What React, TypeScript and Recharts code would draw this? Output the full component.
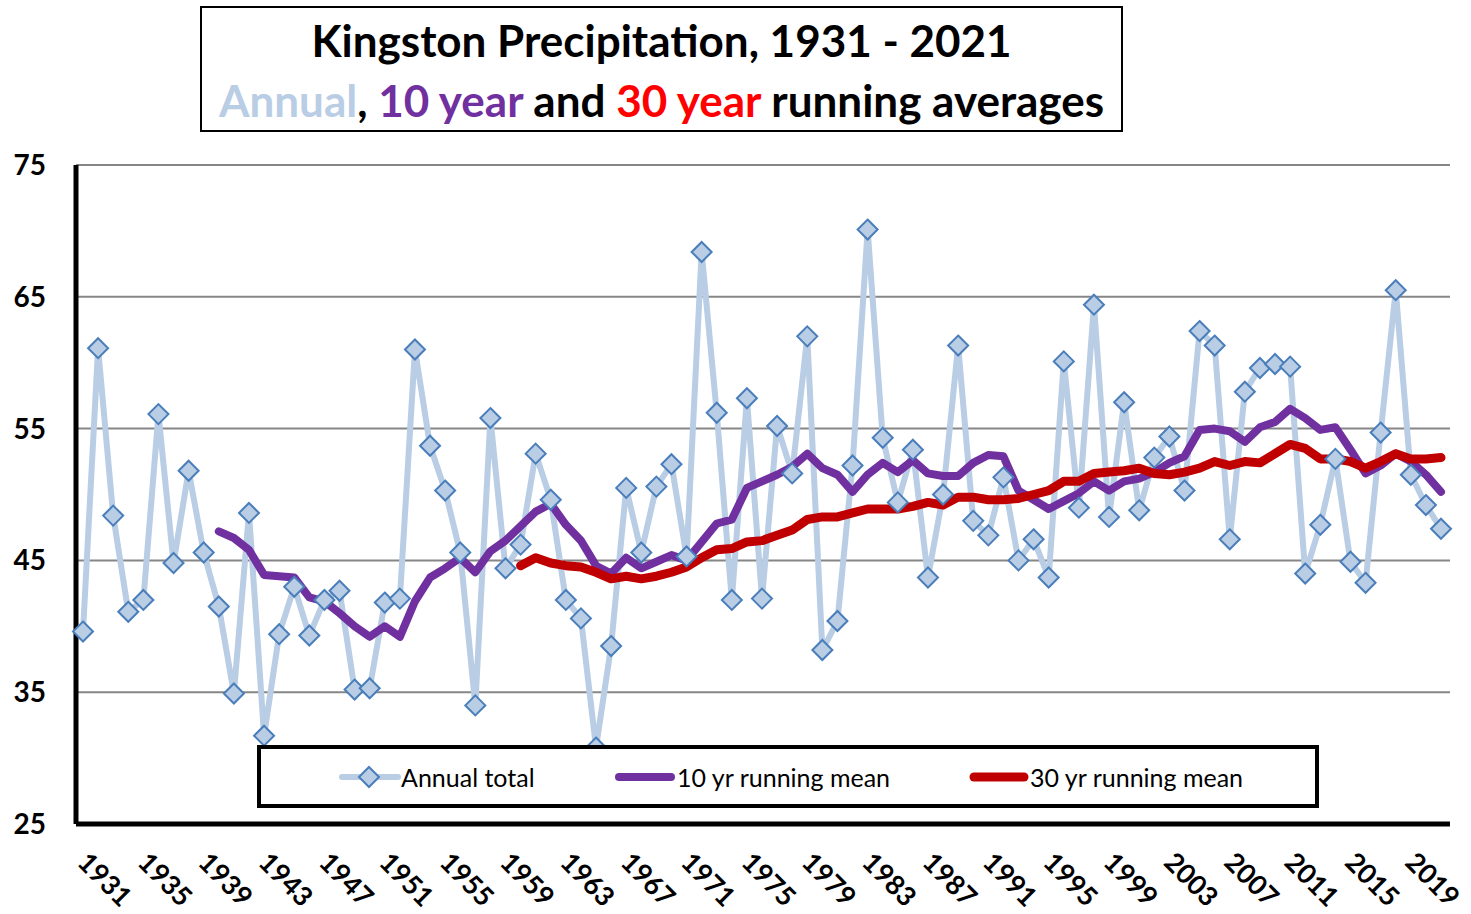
import React from "react";
import { LineChart, Line, XAxis, YAxis, CartesianGrid } from "recharts";

// years 1931 - 2021
const YEARS = [
  1931, 1932, 1933, 1934, 1935, 1936, 1937, 1938, 1939, 1940,
  1941, 1942, 1943, 1944, 1945, 1946, 1947, 1948, 1949, 1950,
  1951, 1952, 1953, 1954, 1955, 1956, 1957, 1958, 1959, 1960,
  1961, 1962, 1963, 1964, 1965, 1966, 1967, 1968, 1969, 1970,
  1971, 1972, 1973, 1974, 1975, 1976, 1977, 1978, 1979, 1980,
  1981, 1982, 1983, 1984, 1985, 1986, 1987, 1988, 1989, 1990,
  1991, 1992, 1993, 1994, 1995, 1996, 1997, 1998, 1999, 2000,
  2001, 2002, 2003, 2004, 2005, 2006, 2007, 2008, 2009, 2010,
  2011, 2012, 2013, 2014, 2015, 2016, 2017, 2018, 2019, 2020,
  2021,
];

const ANNUAL = [
  39.6, 61.1, 48.4, 41.1, 42.0, 56.1, 44.8, 51.8, 45.6, 41.5,
  34.9, 48.6, 31.7, 39.4, 43.0, 39.3, 42.0, 42.7, 35.2, 35.3,
  41.8, 42.1, 61.0, 53.7, 50.3, 45.6, 34.0, 55.8, 44.4, 46.2,
  53.1, 49.6, 42.0, 40.6, 30.8, 38.5, 50.5, 45.6, 50.6, 52.3,
  45.3, 68.4, 56.2, 42.0, 57.3, 42.1, 55.2, 51.6, 62.0, 38.2,
  40.4, 52.2, 70.1, 54.3, 49.4, 53.4, 43.7, 50.0, 61.3, 48.0,
  46.9, 51.3, 45.0, 46.6, 43.7, 60.1, 49.0, 64.4, 48.3, 57.0,
  48.8, 52.8, 54.4, 50.3, 62.4, 61.3, 46.6, 57.8, 59.6, 59.9,
  59.7, 44.0, 47.7, 52.7, 44.9, 43.3, 54.7, 65.5, 51.5, 49.2,
  47.4,
];

const MEAN_10 = [
  null, null, null, null, null, null, null, null, null, 47.2,
  46.7, 45.8, 43.9, 43.8, 43.7, 42.2, 41.9, 41.0, 40.0, 39.2,
  40.0, 39.2, 41.9, 43.7, 44.4, 45.2, 44.1, 45.7, 46.5, 47.6,
  48.7, 49.3, 47.7, 46.5, 44.6, 44.0, 45.2, 44.4, 44.9, 45.4,
  45.0, 46.4, 47.8, 48.1, 50.5, 51.0, 51.5, 52.1, 53.1, 52.0,
  51.5, 50.2, 51.5, 52.4, 51.7, 52.6, 51.6, 51.4, 51.4, 52.4,
  53.0, 52.9, 50.3, 49.6, 48.9, 49.5, 50.1, 51.0, 50.3, 51.0,
  51.2, 51.7, 52.4, 52.9, 54.9, 55.0, 54.8, 54.0, 55.1, 55.5,
  56.5, 55.8, 54.9, 55.1, 53.4, 51.6, 52.2, 53.1, 52.5, 51.5,
  50.2,
];

const MEAN_30 = [
  null, null, null, null, null, null, null, null, null, null,
  null, null, null, null, null, null, null, null, null, null,
  null, null, null, null, null, null, null, null, null, 44.6,
  45.2, 44.8, 44.6, 44.5, 44.1, 43.6, 43.8, 43.6, 43.8, 44.1,
  44.5, 45.2, 45.8, 45.9, 46.4, 46.5, 46.9, 47.3, 48.1, 48.3,
  48.3, 48.6, 48.9, 48.9, 48.9, 49.1, 49.4, 49.2, 49.8, 49.8,
  49.6, 49.6, 49.7, 50.0, 50.3, 51.0, 51.0, 51.6, 51.7, 51.8,
  52.0, 51.6, 51.5, 51.7, 52.0, 52.5, 52.2, 52.5, 52.4, 53.1,
  53.8, 53.5, 52.7, 52.7, 52.5, 52.0, 52.5, 53.1, 52.7, 52.7,
  52.8,
];

const Y_TICKS = [25, 35, 45, 55, 65, 75];

const data = YEARS.map((year, i) => ({
  year,
  annual: ANNUAL[i],
  mean10: MEAN_10[i],
  mean30: MEAN_30[i],
}));

const FONT = "Lato, 'Open Sans', sans-serif";
const ANNUAL_COLOR = "#b9cde5";
const MARKER_STROKE = "#4a7ebb";
const PURPLE = "#7030a0";
const RED = "#c00000";

const Diamond = (props: any) => {
  const { cx, cy, index } = props;
  if (cx == null || cy == null) return <g key={`d-${index}`} />;
  const r = 10;
  return (
    <polygon
      key={`d-${index}`}
      points={`${cx},${cy - r} ${cx + r},${cy} ${cx},${cy + r} ${cx - r},${cy}`}
      fill={ANNUAL_COLOR}
      stroke={MARKER_STROKE}
      strokeWidth={2}
    />
  );
};

const XTick = (props: any) => {
  const { x, payload } = props;
  const ax = x - 7;
  const ay = 864;
  return (
    <text
      x={ax}
      y={ay}
      transform={`rotate(45, ${ax}, ${ay})`}
      textAnchor="start"
      fontFamily={FONT}
      fontWeight={700}
      fontSize={27}
      fill="#000"
    >
      {payload.value}
    </text>
  );
};

const YTick = (props: any) => {
  const { y, payload } = props;
  return (
    <text
      x={46}
      y={y + 10}
      textAnchor="end"
      fontFamily={FONT}
      fontWeight={700}
      fontSize={28}
      fill="#000"
    >
      {payload.value}
    </text>
  );
};

const legendText: React.CSSProperties = {
  position: "absolute",
  top: 777 - 17,
  fontFamily: FONT,
  fontSize: 25,
  lineHeight: "34px",
  color: "#000",
  whiteSpace: "nowrap",
};

export default function App() {
  return (
    <div style={{ position: "absolute", left: 0, top: 0, width: 1471, height: 914, background: "#fff" }}>
      <LineChart
        width={1471}
        height={914}
        data={data}
        margin={{ top: 165, right: 21, left: 0, bottom: 6 }}
      >
        <CartesianGrid horizontal vertical={false} stroke="#868686" strokeWidth={2} />
        <XAxis
          dataKey="year"
          interval={3}
          height={84}
          padding={{ left: 7, right: 9 }}
          tickLine={false}
          axisLine={{ stroke: "#000", strokeWidth: 5 }}
          tick={<XTick />}
        />
        <YAxis
          domain={[25, 75]}
          ticks={Y_TICKS}
          width={76}
          tickLine={false}
          axisLine={{ stroke: "#000", strokeWidth: 5 }}
          tick={<YTick />}
        />
        <Line
          dataKey="annual"
          stroke={ANNUAL_COLOR}
          strokeWidth={6}
          dot={Diamond}
          activeDot={false}
          isAnimationActive={false}
        />
        <Line
          dataKey="mean10"
          stroke={PURPLE}
          strokeWidth={8}
          strokeLinecap="round"
          strokeLinejoin="round"
          dot={false}
          activeDot={false}
          isAnimationActive={false}
        />
        <Line
          dataKey="mean30"
          stroke={RED}
          strokeWidth={9}
          strokeLinecap="round"
          strokeLinejoin="round"
          dot={false}
          activeDot={false}
          isAnimationActive={false}
        />
      </LineChart>

      {/* title box */}
      <div
        style={{
          position: "absolute",
          left: 200,
          top: 6,
          width: 923,
          height: 126,
          boxSizing: "border-box",
          border: "2px solid #000",
          background: "#fff",
          paddingTop: 2,
          textAlign: "center",
          fontFamily: FONT,
          fontWeight: 700,
          fontSize: 44,
          lineHeight: "60px",
          color: "#000",
          whiteSpace: "nowrap",
        }}
      >
        <div>Kingston Precipitation, 1931 - 2021</div>
        <div>
          <span style={{ color: ANNUAL_COLOR }}>Annual</span>,{" "}
          <span style={{ color: PURPLE }}>10 year</span> and{" "}
          <span style={{ color: "#ff0000" }}>30 year</span> running averages
        </div>
      </div>

      {/* legend box */}
      <div
        style={{
          position: "absolute",
          left: 257,
          top: 745,
          width: 1062,
          height: 63,
          boxSizing: "border-box",
          border: "4px solid #000",
          background: "#fff",
        }}
      />
      <svg style={{ position: "absolute", left: 0, top: 760 }} width={1100} height={34}>
        <line x1={342} y1={17} x2={398} y2={17} stroke={ANNUAL_COLOR} strokeWidth={6} strokeLinecap="round" />
        <polygon points="369,7 379,17 369,27 359,17" fill={ANNUAL_COLOR} stroke={MARKER_STROKE} strokeWidth={2} />
        <line x1={619} y1={17} x2={671} y2={17} stroke={PURPLE} strokeWidth={8} strokeLinecap="round" />
        <line x1={974} y1={17} x2={1024} y2={17} stroke={RED} strokeWidth={9} strokeLinecap="round" />
      </svg>
      <div style={{ ...legendText, left: 401 }}>Annual total</div>
      <div style={{ ...legendText, left: 677 }}>10 yr running mean</div>
      <div style={{ ...legendText, left: 1030 }}>30 yr running mean</div>
    </div>
  );
}
